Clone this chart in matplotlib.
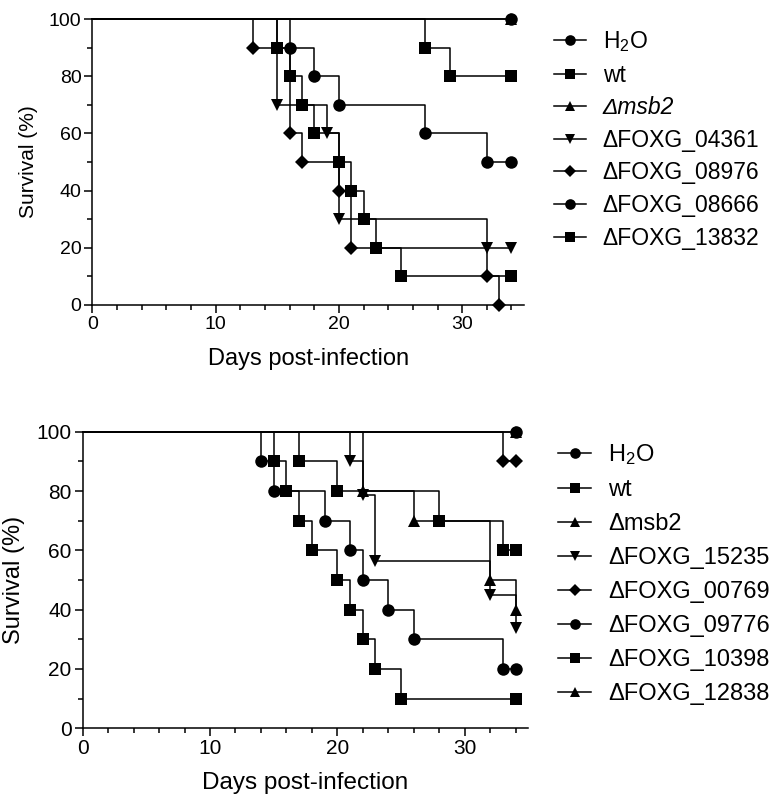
import numpy as np
import matplotlib.pyplot as plt
from matplotlib.lines import Line2D
from matplotlib.ticker import MultipleLocator

plt.rcParams['font.family'] = ['Liberation Sans', 'DejaVu Sans']
plt.rcParams['mathtext.fontset'] = 'custom'
plt.rcParams['mathtext.rm'] = 'Liberation Sans'
plt.rcParams['mathtext.it'] = 'Liberation Sans:italic'

# ---- top panel: days of each event and survival (%) after it
top_labels = ['H$_2$O', 'wt', 'Δmsb2', 'ΔFOXG_04361', 'ΔFOXG_08976',
              'ΔFOXG_08666', 'ΔFOXG_13832']
top_markers = ['o', 's', '^', 'v', 'D', 'o', 's']

top_h2o_t = [0, 34]
top_h2o_s = [100, 100]
top_wt_t = [0, 27, 29, 34]
top_wt_s = [100, 90, 80, 80]
top_msb2_t = [0, 34]
top_msb2_s = [100, 100]
top_04361_t = [0, 15, 19, 20, 32, 34]
top_04361_s = [100, 70, 60, 30, 20, 20]
top_08976_t = [0, 13, 16, 17, 20, 21, 32, 33]
top_08976_s = [100, 90, 60, 50, 40, 20, 10, 0]
top_08666_t = [0, 16, 18, 20, 27, 32, 34]
top_08666_s = [100, 90, 80, 70, 60, 50, 50]
top_13832_t = [0, 15, 16, 17, 18, 20, 21, 22, 23, 25, 34]
top_13832_s = [100, 90, 80, 70, 60, 50, 40, 30, 20, 10, 10]

# ---- bottom panel
bot_labels = ['H$_2$O', 'wt', 'Δmsb2', 'ΔFOXG_15235', 'ΔFOXG_00769',
              'ΔFOXG_09776', 'ΔFOXG_10398', 'ΔFOXG_12838']
bot_markers = ['o', 's', '^', 'v', 'D', 'o', 's', '^']

bot_h2o_t = [0, 34]
bot_h2o_s = [100, 100]
bot_wt_t = [0, 17, 20, 28, 33, 34]
bot_wt_s = [100, 90, 80, 70, 60, 60]
bot_msb2_t = [0, 34]
bot_msb2_s = [100, 100]
bot_15235_t = [0, 21, 22, 23, 32, 34]
bot_15235_s = [100, 90, 78.75, 56.25, 45, 33.75]
bot_00769_t = [0, 33, 34]
bot_00769_s = [100, 90, 90]
bot_09776_t = [0, 14, 15, 19, 21, 22, 24, 26, 33, 34]
bot_09776_s = [100, 90, 80, 70, 60, 50, 40, 30, 20, 20]
bot_10398_t = [0, 15, 16, 17, 18, 20, 21, 22, 23, 25, 34]
bot_10398_s = [100, 90, 80, 70, 60, 50, 40, 30, 20, 10, 10]
bot_12838_t = [0, 22, 26, 32, 34]
bot_12838_s = [100, 80, 70, 50, 40]

top_series = [(top_h2o_t, top_h2o_s), (top_wt_t, top_wt_s), (top_msb2_t, top_msb2_s),
              (top_04361_t, top_04361_s), (top_08976_t, top_08976_s),
              (top_08666_t, top_08666_s), (top_13832_t, top_13832_s)]
bot_series = [(bot_h2o_t, bot_h2o_s), (bot_wt_t, bot_wt_s), (bot_msb2_t, bot_msb2_s),
              (bot_15235_t, bot_15235_s), (bot_00769_t, bot_00769_s),
              (bot_09776_t, bot_09776_s), (bot_10398_t, bot_10398_s),
              (bot_12838_t, bot_12838_s)]

msize = {'o': 9, 's': 8.5, '^': 9, 'v': 9, 'D': 7}


def draw_panel(ax, series, markers, tick_fs, xlab_fs, ylab_fs, xpad, ypad):
    for t, s in series:
        ax.step(t, s, where='post', color='black', lw=1.1, clip_on=False, zorder=3)
    for (t, s), m in zip(series, markers):
        ax.plot(t[1:], s[1:], ls='none', marker=m, color='black', markersize=msize[m],
                markeredgewidth=0, clip_on=False, zorder=4)
    ax.set_xlim(0, 35)
    ax.set_ylim(0, 100)
    ax.xaxis.set_major_locator(MultipleLocator(10))
    ax.xaxis.set_minor_locator(MultipleLocator(2))
    ax.yaxis.set_major_locator(MultipleLocator(20))
    ax.yaxis.set_minor_locator(MultipleLocator(10))
    ax.spines['top'].set_visible(False)
    ax.spines['right'].set_visible(False)
    for sp in ['left', 'bottom']:
        ax.spines[sp].set_linewidth(1.1)
    ax.tick_params(which='major', length=6, width=1.1, labelsize=tick_fs, pad=2)
    ax.tick_params(which='minor', length=3.5, width=1.1)
    ax.set_xlabel('Days post-infection', fontsize=xlab_fs, labelpad=xpad)
    ax.set_ylabel('Survival (%)', fontsize=ylab_fs, labelpad=ypad)


def add_legend(fig, labels, markers, x, y, spacing, fs):
    handles = [Line2D([], [], color='black', lw=1.1, marker=m,
                      markersize=msize[m] * 0.85, markeredgewidth=0) for m in markers]
    leg = fig.legend(handles, labels, loc='upper left', bbox_to_anchor=(x, y),
                     frameon=False, fontsize=fs, handlelength=1.4, handletextpad=0.72,
                     labelspacing=spacing, borderpad=0, borderaxespad=0)
    return leg


fig = plt.figure(figsize=(7.74, 7.95), dpi=100)
ax1 = fig.add_axes([0.1195, 0.6164, 0.5572, 0.3597])
ax2 = fig.add_axes([0.1068, 0.0839, 0.5757, 0.3731])

draw_panel(ax1, top_series, top_markers, 14, 17, 15, 11, 8)
draw_panel(ax2, bot_series, bot_markers, 15, 17.5, 17, 9.5, 8)

leg1 = add_legend(fig, top_labels, top_markers, 554 / 774, 1 - 29 / 795, 0.42, 16.5)
leg1.get_texts()[2].set_fontstyle('italic')
add_legend(fig, bot_labels, bot_markers, 558 / 774, 1 - 442 / 795, 0.51, 17)

fig.savefig('out.png', dpi=100)
